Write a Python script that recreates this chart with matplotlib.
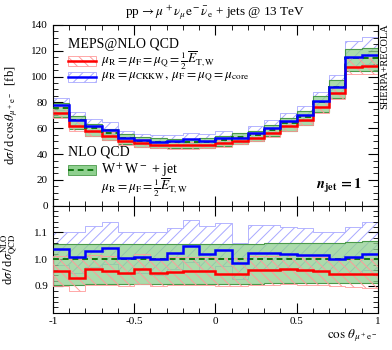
import numpy as np
import matplotlib
matplotlib.use("Agg")
import matplotlib.pyplot as plt
from matplotlib.patches import Rectangle
from matplotlib.ticker import MultipleLocator

plt.rcParams["font.family"] = ["Liberation Serif", "DejaVu Serif"]
plt.rcParams["mathtext.fontset"] = "stix"
plt.rcParams["hatch.linewidth"] = 0.7

# bin edges in cos(theta)
edges = np.linspace(-1, 1, 21)

# NLO QCD W+W- + jet central values [fb]
nlo = np.array([75.5, 66, 60, 56.5, 52.5, 50.5, 49.5, 49, 49, 49.5,
                51, 53, 55, 59, 64, 69, 80, 92, 114, 114.5])
# NLO scale band, as ratio to central
nlo_up = np.array([1.058, 1.058, 1.058, 1.058, 1.058, 1.058, 1.058, 1.058, 1.058, 1.058,
                   1.058, 1.058, 1.058, 1.060, 1.060, 1.060, 1.062, 1.062, 1.065, 1.068])
nlo_dn = np.array([0.905, 0.905, 0.906, 0.907, 0.907, 0.908, 0.908, 0.908, 0.908, 0.908,
                   0.908, 0.908, 0.908, 0.910, 0.910, 0.910, 0.910, 0.910, 0.912, 0.912])

# MEPS@NLO, mu = 1/2 E_T,W (red), ratio to NLO
red = np.array([0.955, 0.931, 0.965, 0.956, 0.949, 0.965, 0.949, 0.953, 0.956, 0.956,
                0.946, 0.946, 0.959, 0.959, 0.965, 0.959, 0.955, 0.946, 0.943, 0.943])
red_up = np.array([1.012, 1.000, 1.015, 1.012, 1.005, 1.018, 1.005, 1.008, 1.010, 1.010,
                   1.003, 1.003, 1.012, 1.012, 1.018, 1.012, 1.010, 1.002, 1.000, 1.000])
red_dn = np.array([0.901, 0.882, 0.905, 0.903, 0.900, 0.906, 0.900, 0.902, 0.903, 0.903,
                   0.898, 0.898, 0.905, 0.905, 0.906, 0.904, 0.902, 0.898, 0.895, 0.893])

# MEPS@NLO, mu = CKKW/core (blue), ratio to NLO
blue = np.array([1.038, 1.010, 1.029, 1.042, 1.004, 1.010, 1.000, 1.023, 1.048, 1.019,
                 1.033, 0.985, 1.025, 1.025, 1.020, 1.014, 1.016, 1.001, 1.008, 1.019])
blue_up = np.array([1.100, 1.100, 1.125, 1.141, 1.100, 1.100, 1.100, 1.115, 1.148, 1.125,
                    1.136, 1.060, 1.128, 1.128, 1.119, 1.115, 1.102, 1.102, 1.119, 1.141])
blue_dn = blue - 0.06

c_red, c_redh = "#ff0000", "#ff9a9a"
c_blue, c_blueh = "#0000ff", "#a8a8ff"
c_green, c_greenf, c_greene = "#117711", "#8fd08f", "#4a9a4a"

fig = plt.figure(figsize=(3.92, 3.5), dpi=100)
ax = fig.add_axes([0.135, 0.412, 0.829, 0.517])
rax = fig.add_axes([0.135, 0.107, 0.829, 0.305], sharex=ax)


def draw(a, scale):
    a.stairs(blue_up * scale, edges, baseline=blue_dn * scale, fill=True,
             facecolor="none", edgecolor=c_blueh, hatch="///", lw=0.6, zorder=1)
    a.stairs(nlo_up * scale, edges, baseline=nlo_dn * scale, fill=True,
             facecolor=c_greenf, edgecolor="none", alpha=0.75, zorder=2)
    a.stairs(nlo_up * scale, edges, baseline=None, color=c_greene, lw=0.8, zorder=2)
    a.stairs(nlo_dn * scale, edges, baseline=None, color=c_greene, lw=0.8, zorder=2)
    a.stairs(red_up * scale, edges, baseline=red_dn * scale, fill=True,
             facecolor="none", edgecolor=c_redh, hatch="\\\\\\", lw=0.6, zorder=3)
    a.stairs(red * scale, edges, baseline=None, color=c_red, lw=1.8, zorder=4)
    a.stairs(np.ones(20) * scale, edges, baseline=None, color=c_green, lw=1.4,
             ls=(0, (3, 2)), zorder=5)
    a.stairs(blue * scale, edges, baseline=None, color=c_blue, lw=1.8, zorder=6)


draw(ax, nlo)
draw(rax, np.ones(20))

for a in (ax, rax):
    a.set_xlim(-1, 1)
    a.tick_params(which="both", direction="in", top=True, right=True, labelsize=8)
    a.tick_params(which="major", length=7)
    a.tick_params(which="minor", length=3.5)
    a.xaxis.set_major_locator(MultipleLocator(0.5))
    a.xaxis.set_minor_locator(MultipleLocator(0.1))

ax.set_ylim(0, 140)
ax.yaxis.set_major_locator(MultipleLocator(20))
ax.yaxis.set_minor_locator(MultipleLocator(5))
ax.tick_params(labelbottom=False)

rax.set_ylim(0.8, 1.2)
rax.set_yticks([0.9, 1.0, 1.1])
rax.set_yticklabels(["0.9", "1.0", "1.1"])
rax.yaxis.set_minor_locator(MultipleLocator(0.02))
rax.set_xticks([-1, -0.5, 0, 0.5, 1])
rax.set_xticklabels(["-1", "-0.5", "0", "0.5", "1"])

ax.set_title(r"pp$\,\rightarrow\mu^+\nu_\mu\mathrm{e}^-\bar{\nu}_\mathrm{e}$ + jets @ 13 TeV",
             fontsize=9.5, pad=6)
ax.set_ylabel(r"d$\sigma\,/\,$d$\,\cos\theta_{\mu^+\mathrm{e}^-}$  [fb]", fontsize=9, labelpad=2)
rax.set_ylabel(r"d$\sigma\,/\,$d$\sigma^{\mathrm{NLO}}_{\mathrm{QCD}}$", fontsize=9, labelpad=2)
rax.set_xlabel(r"$\cos\,\theta_{\mu^+\mathrm{e}^-}$", fontsize=9.5, loc="right", labelpad=1)
ax.yaxis.set_label_coords(-0.1, 0.5)
rax.yaxis.set_label_coords(-0.1, 0.5)


# hand-made legend, axes coordinates
def handle(y, face, edge, hatch, lcolor, ls="-", lw=1.8):
    ax.add_patch(Rectangle((0.046, y - 0.027), 0.086, 0.054, transform=ax.transAxes,
                           facecolor=face, edgecolor=edge, hatch=hatch, lw=0.6, zorder=7))
    ax.plot([0.046, 0.132], [y, y], transform=ax.transAxes, color=lcolor,
            lw=lw, ls=ls, zorder=8)


lx, tx = 0.046, 0.148
ax.text(lx, 0.889, "MEPS@NLO QCD", transform=ax.transAxes, fontsize=10, va="center")
handle(0.801, "white", c_redh, "\\\\\\", c_red)
ax.text(tx, 0.801, r"$\mu_\mathrm{R}=\mu_\mathrm{F}=\mu_\mathrm{Q}=\frac{1}{2}\overline{E}_\mathrm{T,W}$",
        transform=ax.transAxes, fontsize=9.5, va="center")
handle(0.712, "white", c_blueh, "///", c_blue)
ax.text(tx, 0.712, r"$\mu_\mathrm{R}=\mu_\mathrm{CKKW},\;\mu_\mathrm{F}=\mu_\mathrm{Q}=\mu_\mathrm{core}$",
        transform=ax.transAxes, fontsize=9.5, va="center")

ax.text(lx, 0.297, "NLO QCD", transform=ax.transAxes, fontsize=10, va="center")
handle(0.198, c_greenf, c_greene, None, c_green, ls=(0, (3, 2)), lw=1.4)
ax.text(tx, 0.198, r"W$^+$W$^-$ + jet", transform=ax.transAxes, fontsize=10, va="center")
ax.text(tx, 0.098, r"$\mu_\mathrm{R}=\mu_\mathrm{F}=\frac{1}{2}\overline{E}_\mathrm{T,W}$",
        transform=ax.transAxes, fontsize=9.5, va="center")

ax.text(0.95, 0.11, r"$\boldsymbol{n}_\mathbf{jet}\,\mathbf{= 1}$", transform=ax.transAxes,
        fontsize=10.5, ha="right", va="center")

fig.text(0.982, 0.81, "SHERPA+RECOLA", rotation=90, fontsize=7.5, ha="center", va="center")

fig.savefig("out.png", dpi=100)
